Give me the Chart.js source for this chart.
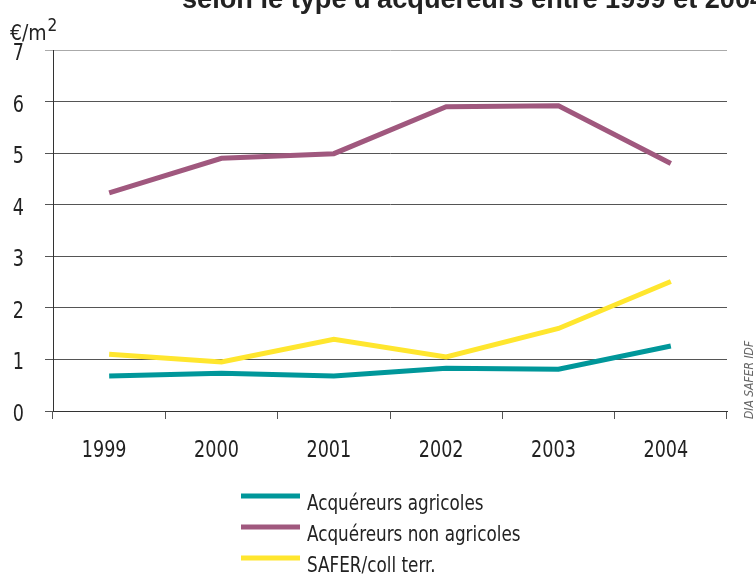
<!DOCTYPE html>
<html>
<head>
<meta charset="utf-8">
<script src="https://cdn.jsdelivr.net/npm/chart.js@4.4.1/dist/chart.umd.min.js"></script>
<style>
    html, body { margin: 0; padding: 0; background: #fff; }
    #wrap { width: 756px; height: 574px; position: relative; }
</style>
</head>
<body>
<div id="wrap"><canvas id="prix-chart" width="756" height="574"></canvas></div>
<script>
const annees = ['1999', '2000', '2001', '2002', '2003', '2004'];
const acquereurs_agricoles = [0.68, 0.73, 0.68, 0.83, 0.81, 1.26];
const acquereurs_non_agricoles = [4.23, 4.90, 4.99, 5.90, 5.92, 4.80];
const safer_coll_terr = [1.10, 0.95, 1.39, 1.05, 1.60, 2.51];
const y_ticks = [0, 1, 2, 3, 4, 5, 6, 7];

const narrow_font = "'Liberation Sans Narrow', 'DejaVu Sans Condensed', 'Liberation Sans', Arial, sans-serif";

const prix_chart = document.getElementById('prix-chart');

// texte resserré horizontalement (police condensée de l'original)
const fill_narrow = (ctx, text, x, y, sx) => {
    ctx.save();
    ctx.translate(x, y);
    ctx.scale(sx, 1);
    ctx.fillText(text, 0, 0);
    ctx.restore();
};

// étiquettes des axes, titre coupé, unité, source et légende
const decor_plugin = {
    id: 'decor',
    afterDraw: (chart) => {
        const ctx = chart.ctx;
        const x_scale = chart.scales.x;
        const y_scale = chart.scales.y;
        ctx.save();

        ctx.fillStyle = '#222';
        ctx.font = '23px ' + narrow_font;
        ctx.textBaseline = 'middle';
        ctx.textAlign = 'center';
        annees.forEach((a, i) => {
            fill_narrow(ctx, a, x_scale.getPixelForValue(i) - 5, 451, 0.85);
        });
        ctx.textAlign = 'right';
        y_ticks.forEach((v) => {
            fill_narrow(ctx, String(v), 24, y_scale.getPixelForValue(v) + 4, 0.85);
        });

        ctx.textAlign = 'left';
        ctx.textBaseline = 'alphabetic';
        ctx.font = "bold 28px 'Liberation Sans', Arial, sans-serif";
        fill_narrow(ctx, "selon le type d'acquéreurs entre 1999 et 2004", 182, 8, 0.97);

        ctx.font = '22px ' + narrow_font;
        fill_narrow(ctx, '€/m', 10, 40, 0.95);
        const w = ctx.measureText('€/m').width * 0.95;
        ctx.font = '18px ' + narrow_font;
        fill_narrow(ctx, '2', 10 + w + 1, 31, 0.95);

        ctx.save();
        ctx.translate(750, 380);
        ctx.rotate(-Math.PI / 2);
        ctx.font = "italic 12px " + narrow_font;
        ctx.fillStyle = '#666';
        ctx.textAlign = 'center';
        ctx.textBaseline = 'middle';
        ctx.fillText('DIA SAFER IDF', 0, 0);
        ctx.restore();

        chart.data.datasets.forEach((ds, i) => {
            const y = 496 + i * 31;
            ctx.strokeStyle = ds.borderColor;
            ctx.lineWidth = 5;
            ctx.beginPath();
            ctx.moveTo(241, y);
            ctx.lineTo(300, y);
            ctx.stroke();
            ctx.fillStyle = '#222';
            ctx.font = '22px ' + narrow_font;
            ctx.textBaseline = 'middle';
            ctx.textAlign = 'left';
            fill_narrow(ctx, ds.label, 307, y + 8, 0.85);
        });

        ctx.restore();
    }
};

new Chart(prix_chart, {
    type: 'line',
    data: {
        labels: annees,
        datasets: [
            {
                label: 'Acquéreurs agricoles',
                data: acquereurs_agricoles,
                borderColor: '#00979a',
                borderWidth: 5,
                pointRadius: 0,
                tension: 0,
                fill: false
            },
            {
                label: 'Acquéreurs non agricoles',
                data: acquereurs_non_agricoles,
                borderColor: '#a0587e',
                borderWidth: 5,
                pointRadius: 0,
                tension: 0,
                fill: false
            },
            {
                label: 'SAFER/coll terr.',
                data: safer_coll_terr,
                borderColor: '#ffe62e',
                borderWidth: 5,
                pointRadius: 0,
                tension: 0,
                fill: false
            }
        ]
    },
    options: {
        responsive: false,
        animation: false,
        layout: {
            padding: { top: 50, right: 29, left: 0, bottom: 0 }
        },
        plugins: {
            legend: { display: false },
            tooltip: { enabled: false }
        },
        scales: {
            x: {
                offset: true,
                afterFit: (scale) => { scale.height = 163; },
                grid: {
                    offset: true,
                    drawOnChartArea: false,
                    tickLength: 8,
                    color: '#555'
                },
                border: { color: '#333', width: 1 },
                ticks: { display: false }
            },
            y: {
                min: 0,
                max: 7,
                afterFit: (scale) => { scale.width = 53; },
                afterBuildTicks: (scale) => {
                    scale.ticks = y_ticks.map((v) => ({ value: v }));
                },
                grid: {
                    tickLength: 8,
                    color: (c) => (c.tick && c.tick.value === 7 ? '#aaa' : '#555')
                },
                border: { color: '#333', width: 1 },
                ticks: { display: false }
            }
        }
    },
    plugins: [decor_plugin]
});
</script>
</body>
</html>
